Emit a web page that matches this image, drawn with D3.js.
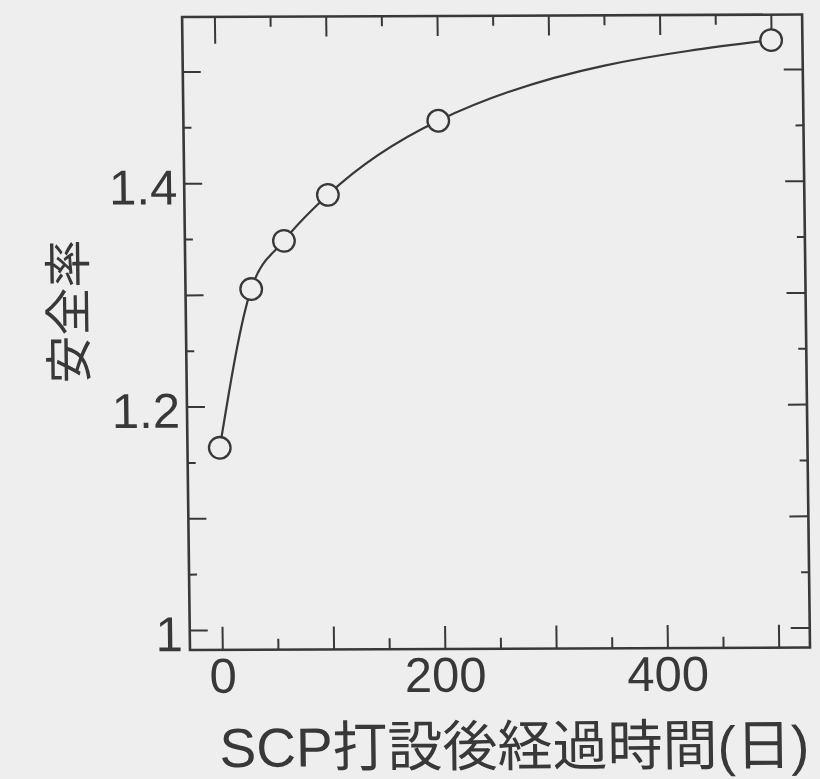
<!DOCTYPE html>
<html>
<head>
<meta charset="utf-8">
<script src="https://cdn.jsdelivr.net/npm/d3@7/dist/d3.min.js"></script>
<style>
  html, body { margin: 0; padding: 0; background: #efeeee; }
  svg { display: block; }
</style>
</head>
<body>
<svg id="chart" width="820" height="779"></svg>
<script>
// Safety factor versus elapsed time after SCP installation
const days = [0, 30, 60, 100, 200, 500];
const safety = [1.163, 1.305, 1.348, 1.389, 1.455, 1.526];

const xMajorTicks = [0, 100, 200, 300, 400, 500];
const xMinorTicks = [50, 150, 250, 350, 450];
const xLabelTicks = [0, 200, 400];
const yMajorTicks = [1.0, 1.1, 1.2, 1.3, 1.4, 1.5];
const yMinorTicks = [1.05, 1.15, 1.25, 1.35, 1.45];
const yLabelTicks = [1.0, 1.2, 1.4];

const xTitle = "SCP打設後経過時間(日)";
const yTitle = "安全率";

const ink = "#383838";
const bg = "#efeeee";
const latin = "'Liberation Sans', Arial, Helvetica, sans-serif";
const cjk = "'Liberation Sans', 'Noto Sans CJK JP', sans-serif";

const svg = d3.select("#chart");
svg.append("rect").attr("width", 820).attr("height", 779).attr("fill", bg);

// plot frame edges
const frameL = 190, frameR = 810, frameT = 17, frameB = 650;

const x = d3.scaleLinear().domain([0, 500]).range([222.3, 778.7]);
const y = d3.scaleLinear().domain([1, 1.2]).range([630, 406.6]);

// slight shear of the printed figure
const a = 0.0125, b = -0.004;
const g = svg.append("g")
  .attr("transform", `matrix(1, ${b}, ${a}, 1, ${-a * frameB}, ${-b * frameL})`);

const fmt = d => yLabelTicks.some(t => Math.abs(t - d) < 1e-9) ? String(+d.toFixed(1)) : "";
const fmtX = d => xLabelTicks.includes(d) ? String(d) : "";

function styleAxis(sel, width) {
  sel.select(".domain").remove();
  sel.selectAll(".tick line").attr("stroke", ink).attr("stroke-width", width);
  sel.selectAll(".tick text")
    .attr("fill", ink)
    .attr("font-family", latin)
    .attr("font-size", 49);
}

// left axis
g.append("g").attr("transform", `translate(${frameL},0)`)
  .call(d3.axisLeft(y).tickValues(yMinorTicks).tickSize(-8).tickFormat(""))
  .call(s => styleAxis(s, 2));
g.append("g").attr("transform", `translate(${frameL},0)`)
  .call(d3.axisLeft(y).tickValues(yMajorTicks).tickSize(-18).tickPadding(7).tickFormat(fmt))
  .call(s => styleAxis(s, 2))
  .call(s => s.selectAll(".tick text").attr("dy", "0.42em"));

// right axis
g.append("g").attr("transform", `translate(${frameR},0)`)
  .call(d3.axisRight(y).tickValues(yMinorTicks).tickSize(-8).tickFormat(""))
  .call(s => styleAxis(s, 2));
g.append("g").attr("transform", `translate(${frameR},0)`)
  .call(d3.axisRight(y).tickValues(yMajorTicks).tickSize(-19).tickFormat(""))
  .call(s => styleAxis(s, 2));

// bottom axis
g.append("g").attr("transform", `translate(0,${frameB})`)
  .call(d3.axisBottom(x).tickValues(xMinorTicks).tickSize(-11).tickFormat(""))
  .call(s => styleAxis(s, 2));
g.append("g").attr("transform", `translate(0,${frameB})`)
  .call(d3.axisBottom(x).tickValues(xMajorTicks).tickSize(-23).tickPadding(8).tickFormat(fmtX))
  .call(s => styleAxis(s, 2));

// top axis
g.append("g").attr("transform", `translate(0,${frameT})`)
  .call(d3.axisTop(x).tickValues(xMinorTicks).tickSize(-10).tickFormat(""))
  .call(s => styleAxis(s, 2));
g.append("g").attr("transform", `translate(0,${frameT})`)
  .call(d3.axisTop(x).tickValues(xMajorTicks).tickSize(-20).tickFormat(""))
  .call(s => styleAxis(s, 2))
  .call(s => s.selectAll(".tick line").filter(d => d === 0).attr("y2", 27));

// frame
g.append("rect")
  .attr("x", frameL).attr("y", frameT)
  .attr("width", frameR - frameL).attr("height", frameB - frameT)
  .attr("fill", "none").attr("stroke", ink).attr("stroke-width", 2.6);

// fitted curve
const pts = days.map((d, i) => [d, safety[i]]);
g.append("path")
  .datum(pts)
  .attr("fill", "none")
  .attr("stroke", ink)
  .attr("stroke-width", 2.2)
  .attr("d", d3.line().x(d => x(d[0])).y(d => y(d[1])).curve(d3.curveMonotoneX));

// observed points
g.selectAll("circle.pt")
  .data(pts)
  .join("circle")
  .attr("class", "pt")
  .attr("cx", d => x(d[0]))
  .attr("cy", d => y(d[1]))
  .attr("r", 10.8)
  .attr("fill", bg)
  .attr("stroke", ink)
  .attr("stroke-width", 2.3);

// axis titles
g.append("text")
  .attr("x", 808).attr("y", 767)
  .attr("text-anchor", "end")
  .attr("font-family", cjk)
  .attr("font-size", 55)
  .attr("fill", ink)
  .text(xTitle);

g.append("text")
  .attr("transform", "translate(90,311) rotate(-90)")
  .attr("text-anchor", "middle")
  .attr("font-family", "'Noto Sans CJK JP', sans-serif")
  .attr("font-size", 48)
  .attr("fill", ink)
  .text(yTitle);
</script>
</body>
</html>
